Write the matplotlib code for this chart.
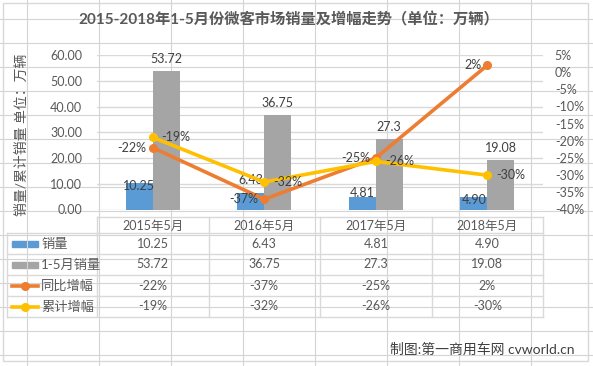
import numpy as np
import matplotlib
matplotlib.use('Agg')
import matplotlib.pyplot as plt
from matplotlib.patches import Rectangle

# data
categories = ['2015年5月', '2016年5月', '2017年5月', '2018年5月']
series_names = ['销量', '1-5月销量', '同比增幅', '累计增幅']
sales_may = [10.25, 6.43, 4.81, 4.90]
sales_ytd = [53.72, 36.75, 27.3, 19.08]
sales_may_text = ['10.25', '6.43', '4.81', '4.90']
sales_ytd_text = ['53.72', '36.75', '27.3', '19.08']
growth_yoy = [-22, -37, -25, 2]
growth_ytd = [-19, -32, -26, -30]

title = '2015-2018年1-5月份微客市场销量及增幅走势（单位：万辆）'
ylabel = '销量/累计销量 单位：万辆'
footer = '制图:第一商用车网 cvworld.cn'

BLUE, GRAY, ORANGE, YELLOW = '#5B9BD5', '#A5A5A5', '#ED7D31', '#FFC000'
TXT, LBL, GRID = '#595959', '#404040', '#D9D9D9'

plt.rcParams['font.family'] = ['Lato', 'Noto Sans CJK SC', 'DejaVu Sans']
plt.rcParams['axes.unicode_minus'] = False

W, H = 593, 366
fig = plt.figure(figsize=(W / 100, H / 100), dpi=100)

# background layer in pixel coords (sheet grid, chart area, data table)
bg = fig.add_axes([0, 0, 1, 1], zorder=0)
bg.set_xlim(0, W); bg.set_ylim(H, 0); bg.axis('off')
for gx in np.arange(27, W, 72):
    bg.plot([gx, gx], [0, H], color='#D4D4D4', lw=0.8)
for gy in np.arange(19, H, 24):
    bg.plot([0, W], [gy, gy], color='#D4D4D4', lw=0.8)
bg.add_patch(Rectangle((3, 3), 585, 358, fc='white', ec=GRID, lw=1))

# plot area
L, R, T, B = 97, 543, 55, 209.5
ax = fig.add_axes([L / W, (H - B) / H, (R - L) / W, (B - T) / H], zorder=1)
ax.patch.set_alpha(0)
x = np.arange(len(categories))
bw = 0.242
ax.bar(x - bw / 2, sales_may, bw, color=BLUE, zorder=2)
ax.bar(x + bw / 2, sales_ytd, bw, color=GRAY, zorder=2)
ax.set_xlim(-0.5, len(categories) - 0.5)
ax.set_ylim(0, 60)
ax.set_yticks(np.arange(0, 61, 10))
ax.set_yticklabels([f'{v:.2f}' for v in np.arange(0, 61, 10)])
ax.set_xticks([])
ax.grid(axis='y', color=GRID, lw=1)
ax.set_axisbelow(True)
for s in ax.spines.values():
    s.set_visible(False)
ax.tick_params(axis='y', length=0, labelsize=9, colors=TXT, pad=10.5)

blue_off = [-3, 13, 4, -3]
for xi, v, t, o in zip(x, sales_may, sales_may_text, blue_off):
    ax.annotate(t, (xi - bw / 2, v), xytext=(0, o), textcoords='offset pixels',
                ha='center', va='center', fontsize=9, color=LBL)
for xi, v, t in zip(x, sales_ytd, sales_ytd_text):
    ax.annotate(t, (xi + bw / 2, v), xytext=(0, 12), textcoords='offset pixels',
                ha='center', va='center', fontsize=9, color=LBL)

ax2 = ax.twinx()
ax2.set_zorder(2)
ax2.patch.set_visible(False)
ax2.set_ylim(-40, 5)
ax2.set_yticks(np.arange(-40, 6, 5))
ax2.set_yticklabels([f'{v}%' for v in np.arange(-40, 6, 5)])
for s in ax2.spines.values():
    s.set_visible(False)
ax2.tick_params(axis='y', length=0, labelsize=9, colors=TXT, pad=8.5)
ax2.plot(x, growth_yoy, color=ORANGE, lw=2.6, marker='o', ms=5.5, solid_capstyle='round')
ax2.plot(x, growth_ytd, color=YELLOW, lw=2.6, marker='o', ms=5.5, solid_capstyle='round')
for xi, v in zip(x, growth_yoy):
    ax2.annotate(f'{v}%', (xi, v), xytext=(-6, 0), textcoords='offset pixels',
                 ha='right', va='center', fontsize=9, color=LBL)
for xi, v in zip(x, growth_ytd):
    ax2.annotate(f'{v}%', (xi, v), xytext=(9, 0), textcoords='offset pixels',
                 ha='left', va='center', fontsize=9, color=LBL)

# data table under the plot
edges = L + (R - L) * np.arange(len(categories) + 1) / len(categories)
centers = (edges[:-1] + edges[1:]) / 2
rows = [233, 254, 275, 296, 317]
bg.plot([L, R], [217, 217], color=GRID, lw=1)
for ry in rows:
    bg.plot([7, R], [ry, ry], color=GRID, lw=1)
bg.plot([7, 7], [rows[0], rows[-1]], color=GRID, lw=1)
for e in edges:
    bg.plot([e, e], [217, rows[-1]], color=GRID, lw=1)
for c, cat in zip(centers, categories):
    bg.text(c, 225.5, cat, ha='center', va='center', fontsize=9, color=TXT)

table_text = [sales_may_text, sales_ytd_text,
              [f'{v}%' for v in growth_yoy], [f'{v}%' for v in growth_ytd]]
keys = [('bar', BLUE), ('bar', GRAY), ('line', ORANGE), ('line', YELLOW)]
for i, (name, vals, (kind, col)) in enumerate(zip(series_names, table_text, keys)):
    yc = (rows[i] + rows[i + 1]) / 2
    if kind == 'bar':
        bg.add_patch(Rectangle((12, yc - 3), 26, 6, color=col))
    else:
        bg.plot([12, 38], [yc, yc], color=col, lw=2.6)
        bg.plot([25], [yc], 'o', color=col, ms=5.5)
    bg.text(41, yc, name, ha='left', va='center', fontsize=9.5, color=TXT)
    for c, t in zip(centers, vals):
        bg.text(c, yc, t, ha='center', va='center', fontsize=9, color=TXT)

bg.text(289, 20, title, ha='center', va='center', fontsize=11, fontweight='bold', color=TXT)
bg.text(21, 135, ylabel, rotation=90, ha='center', va='center', fontsize=10, color=TXT)
bg.text(575, 349, footer, ha='right', va='center', fontsize=10, color=LBL)

fig.savefig('out.png', dpi=100)
